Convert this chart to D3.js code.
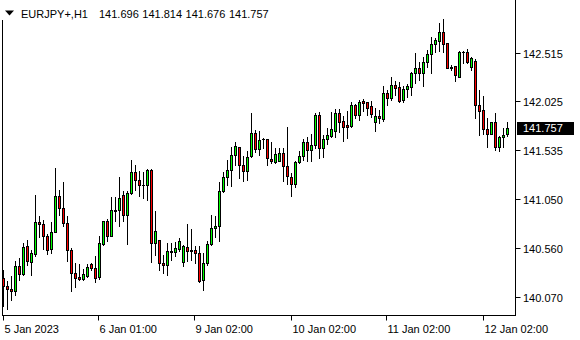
<!DOCTYPE html>
<html lang="en">
<head>
    <meta charset="UTF-8">
    <title>EURJPY+ H1</title>

    <script src="https://d3js.org/d3.v7.min.js"></script>

    <style>
        body {
            margin: 0;
            background: #ffffff;
        }
        svg {
            display: block;
        }
        .lbl {
            font-family: "Liberation Sans", Arial, sans-serif;
            font-size: 11px;
            fill: #000000;
        }
    </style>

</head>

<body>
<svg width="580" height="340"></svg>

<script>

    // hourly bars
    const opens = [
        140.257, 140.180, 140.147, 140.127, 140.380, 140.300, 140.580, 140.413, 140.493, 140.820,
        140.797, 140.680, 140.547, 140.720, 141.080, 140.957, 140.807, 140.540, 140.307, 140.263,
        140.247, 140.280, 140.397, 140.357, 140.263, 140.597, 140.830, 140.673, 140.930, 140.937,
        141.090, 140.883, 141.107, 141.317, 141.240, 141.183, 141.187, 141.340, 140.607, 140.640,
        140.407, 140.390, 140.513, 140.513, 140.550, 140.417, 140.570, 140.537, 140.537, 140.507,
        140.233, 140.407, 140.600, 140.757, 140.773, 141.123, 141.263, 141.337, 141.483, 141.567,
        141.390, 141.323, 141.473, 141.707, 141.547, 141.647, 141.647, 141.447, 141.413, 141.430,
        141.507, 141.380, 141.270, 141.197, 141.413, 141.473, 141.617, 141.540, 141.590, 141.890,
        141.563, 141.650, 141.683, 141.730, 141.907, 141.830, 141.790, 141.780, 141.990, 141.890,
        142.030, 142.017, 141.980, 141.823, 141.880, 141.847, 142.107, 142.063, 142.190, 142.170,
        142.040, 142.147, 142.173, 142.307, 142.357, 142.307, 142.417, 142.497, 142.597, 142.633,
        142.723, 142.607, 142.373, 142.380, 142.273, 142.517, 142.517, 142.367, 142.430, 141.990,
        141.940, 141.750, 141.700, 141.817, 141.573, 141.667, 141.696
    ];
    const highs = [
        140.340, 140.223, 140.273, 140.423, 140.457, 140.607, 140.640, 140.540, 141.090, 140.880,
        140.840, 140.700, 140.813, 141.357, 141.140, 141.217, 140.873, 140.557, 140.407, 140.400,
        140.347, 140.400, 140.407, 140.480, 140.680, 140.830, 140.850, 141.063, 141.063, 141.263,
        141.123, 141.123, 141.440, 141.383, 141.323, 141.317, 141.350, 141.350, 140.923, 140.640,
        140.490, 140.603, 140.607, 140.617, 140.657, 140.590, 140.797, 140.750, 140.573, 140.573,
        140.507, 140.630, 140.883, 140.873, 141.217, 141.317, 141.440, 141.573, 141.623, 141.573,
        141.473, 141.530, 141.907, 141.740, 141.730, 141.663, 141.647, 141.623, 141.563, 141.563,
        141.563, 141.767, 141.307, 141.430, 141.523, 141.650, 141.673, 141.697, 141.907, 141.917,
        141.690, 141.757, 141.923, 141.950, 141.950, 141.880, 141.930, 142.023, 141.997, 142.040,
        142.050, 142.023, 142.030, 141.957, 141.940, 142.180, 142.140, 142.267, 142.230, 142.217,
        142.183, 142.200, 142.323, 142.507, 142.423, 142.473, 142.540, 142.673, 142.657, 142.807,
        142.847, 142.607, 142.390, 142.380, 142.533, 142.533, 142.547, 142.473, 142.447, 142.140,
        142.080, 141.857, 141.817, 141.907, 141.680, 141.757, 141.814
    ];
    const lows = [
        139.973, 139.947, 140.033, 140.090, 140.233, 140.290, 140.390, 140.290, 140.480, 140.667,
        140.547, 140.497, 140.507, 140.713, 140.890, 140.780, 140.423, 140.123, 140.167, 140.233,
        140.233, 140.267, 140.340, 140.213, 140.247, 140.590, 140.623, 140.673, 140.830, 140.773,
        140.830, 140.600, 141.097, 141.140, 141.073, 141.057, 141.033, 140.417, 140.483, 140.340,
        140.307, 140.283, 140.440, 140.473, 140.530, 140.373, 140.430, 140.440, 140.407, 140.220,
        140.140, 140.390, 140.590, 140.663, 140.623, 141.117, 141.190, 141.173, 141.390, 141.257,
        141.230, 141.240, 141.463, 141.517, 141.483, 141.563, 141.383, 141.407, 141.407, 141.423,
        141.230, 141.197, 141.073, 141.163, 141.407, 141.440, 141.423, 141.430, 141.563, 141.457,
        141.463, 141.597, 141.673, 141.673, 141.723, 141.630, 141.663, 141.770, 141.857, 141.840,
        141.930, 141.890, 141.873, 141.730, 141.807, 141.830, 141.990, 142.040, 142.090, 142.017,
        142.023, 142.073, 142.090, 142.213, 142.240, 142.180, 142.373, 142.307, 142.523, 142.530,
        142.523, 142.357, 142.340, 142.233, 142.273, 142.413, 142.407, 142.340, 141.857, 141.690,
        141.700, 141.567, 141.700, 141.540, 141.523, 141.567, 141.676
    ];
    const closes = [
        140.173, 140.147, 140.127, 140.380, 140.300, 140.567, 140.423, 140.507, 140.820, 140.797,
        140.673, 140.540, 140.720, 141.080, 140.957, 140.807, 140.540, 140.307, 140.257, 140.247,
        140.297, 140.367, 140.357, 140.257, 140.607, 140.827, 140.673, 140.937, 140.937, 141.057,
        140.883, 141.107, 141.317, 141.233, 141.183, 141.187, 141.340, 140.607, 140.730, 140.407,
        140.390, 140.530, 140.530, 140.557, 140.630, 140.573, 140.530, 140.523, 140.507, 140.223,
        140.407, 140.597, 140.757, 140.780, 141.130, 141.270, 141.337, 141.490, 141.580, 141.383,
        141.323, 141.470, 141.707, 141.547, 141.640, 141.647, 141.457, 141.423, 141.497, 141.507,
        141.373, 141.273, 141.197, 141.417, 141.480, 141.617, 141.540, 141.590, 141.890, 141.563,
        141.650, 141.690, 141.750, 141.907, 141.823, 141.773, 141.773, 141.990, 141.890, 142.017,
        142.013, 141.957, 141.897, 141.880, 141.857, 142.107, 142.063, 142.190, 142.163, 142.030,
        142.150, 142.180, 142.307, 142.357, 142.307, 142.417, 142.497, 142.597, 142.640, 142.723,
        142.597, 142.363, 142.363, 142.287, 142.517, 142.517, 142.417, 142.457, 141.990, 141.933,
        141.747, 141.700, 141.817, 141.573, 141.667, 141.690, 141.757
    ];

    const symbolName = "EURJPY+,H1";
    const lastBar = ["141.696", "141.814", "141.676", "141.757"];
    const lastPrice = 141.757;

    const priceTicks = [142.515, 142.025, 141.535, 141.050, 140.560, 140.070];
    const timeLabels = ["5 Jan 2023", "6 Jan 01:00", "9 Jan 02:00", "10 Jan 02:00", "11 Jan 02:00", "12 Jan 02:00"];
    const timeIndex = [0, 24, 48, 72, 96, 120];

    let svg = d3.select("svg");

    const plotRight = 515.5, plotBottom = 315.5;

    // 4 px per bar, 100 px per yen
    let x = d3.scaleLinear().domain([0, 126]).range([3.5, 507.5]);
    let y = d3.scaleLinear().domain([140.070, 142.515]).range([296.5, 52.5]);

    const bull = "#00ff00", bear = "#ff0000";

    // frame
    svg.append("line")
        .attr("x1", 2.5).attr("x2", 2.5).attr("y1", 20).attr("y2", plotBottom)
        .attr("stroke", "black");
    svg.append("line")
        .attr("x1", plotRight).attr("x2", plotRight).attr("y1", 0).attr("y2", plotBottom + 0.5)
        .attr("stroke", "black");
    svg.append("line")
        .attr("x1", 2).attr("x2", plotRight).attr("y1", plotBottom).attr("y2", plotBottom)
        .attr("stroke", "black");

    let idx = d3.range(opens.length);

    // wicks
    svg.append("g")
        .selectAll("line")
        .data(idx)
        .enter()
        .append("line")
        .attr("x1", i => x(i)).attr("x2", i => x(i))
        .attr("y1", i => Math.round(y(highs[i])))
        .attr("y2", i => Math.round(y(lows[i])) + 1)
        .attr("stroke", "black")
        .attr("stroke-width", 1);

    // bodies
    let bodies = svg.append("g");
    idx.forEach(function (i) {
        let top = Math.round(y(Math.max(opens[i], closes[i])));
        let bot = Math.round(y(Math.min(opens[i], closes[i])));
        if (bot - top < 1) {
            bodies.append("line")
                .attr("x1", x(i) - 1.5).attr("x2", x(i) + 1.5)
                .attr("y1", top + 0.5).attr("y2", top + 0.5)
                .attr("stroke", "black");
        } else {
            bodies.append("rect")
                .attr("x", x(i) - 1)
                .attr("y", top + 0.5)
                .attr("width", 2)
                .attr("height", bot - top)
                .attr("fill", closes[i] >= opens[i] ? bull : bear)
                .attr("stroke", "black")
                .attr("stroke-width", 1);
        }
    });

    // price axis
    let yAxis = svg.append("g");
    priceTicks.forEach(function (p) {
        let py = Math.round(y(p)) + 0.5;
        yAxis.append("line")
            .attr("x1", plotRight).attr("x2", plotRight + 5)
            .attr("y1", py).attr("y2", py)
            .attr("stroke", "black");
        yAxis.append("text")
            .attr("class", "lbl")
            .attr("x", 523)
            .attr("y", py + 4)
            .text(d3.format(".3f")(p));
    });

    // last price marker
    let ly = Math.round(y(lastPrice));
    svg.append("rect")
        .attr("x", 517).attr("y", ly - 6)
        .attr("width", 57).attr("height", 13)
        .attr("fill", "black");
    svg.append("text")
        .attr("class", "lbl")
        .attr("x", 523).attr("y", ly + 4)
        .style("fill", "white")
        .text(d3.format(".3f")(lastPrice));

    // time axis
    let xAxis = svg.append("g");
    timeIndex.forEach(function (i, k) {
        let tx = Math.round(x(i)) - 0.5;
        xAxis.append("line")
            .attr("x1", tx).attr("x2", tx)
            .attr("y1", plotBottom).attr("y2", plotBottom + 5)
            .attr("stroke", "black");
        xAxis.append("text")
            .attr("class", "lbl")
            .attr("x", tx + 1)
            .attr("y", 333)
            .text(timeLabels[k]);
    });

    // header
    svg.append("path")
        .attr("d", "M5,10.5 L14,10.5 L9.5,15.5 Z")
        .attr("fill", "black");
    svg.append("text")
        .attr("class", "lbl")
        .attr("x", 21).attr("y", 18)
        .text(symbolName);
    svg.append("g")
        .selectAll("text")
        .data(lastBar)
        .enter()
        .append("text")
        .attr("class", "lbl")
        .attr("x", (d, k) => 99 + k * 43.3)
        .attr("y", 18)
        .text(d => d);

</script>
</body>
</html>
